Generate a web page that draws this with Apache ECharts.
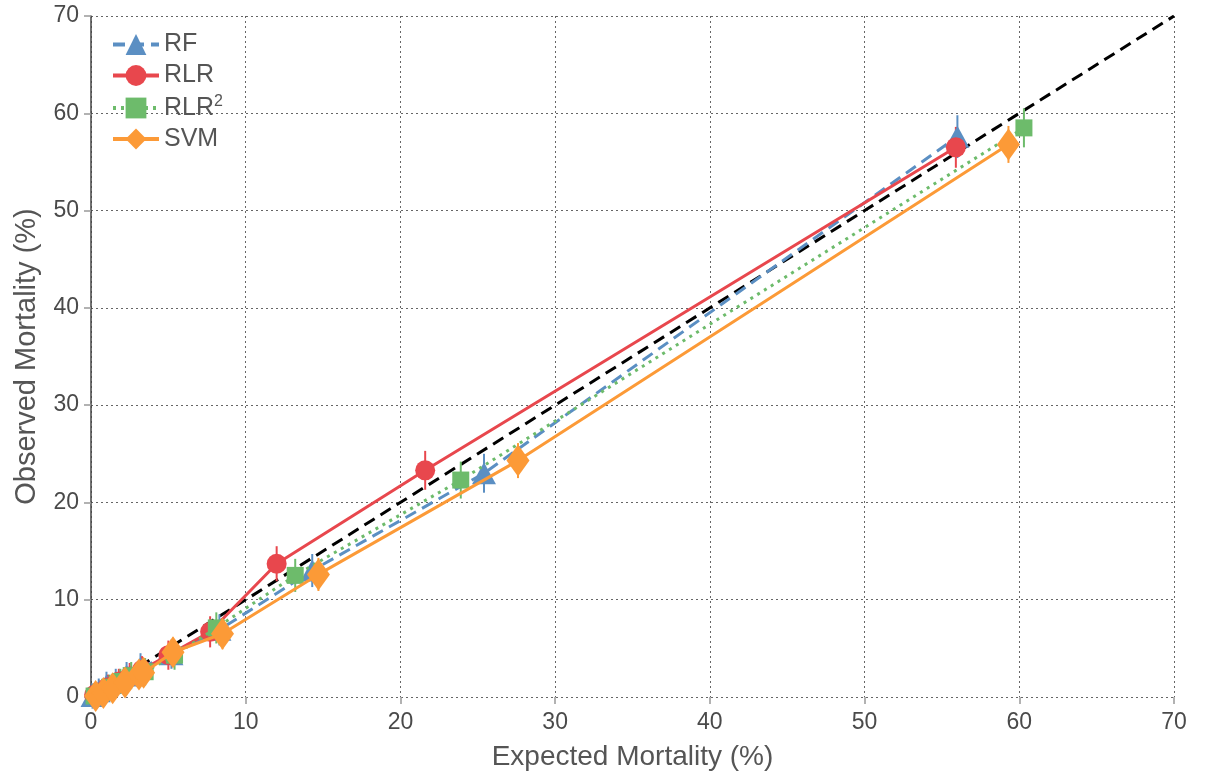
<!DOCTYPE html>
<html><head><meta charset="utf-8">
<script src="https://cdn.jsdelivr.net/npm/echarts@6/dist/echarts.min.js"></script>
<style>html,body{margin:0;padding:0;background:#fff}#c{width:1211px;height:774px}</style>
</head><body><div id="c"></div>
<script>
// [expected, observed, errorHalfWidth]
const rfData = [[0.1,0.1,1.3],[0.5,0.6,1.3],[1.0,1.2,1.4],[1.6,1.5,1.4],[2.3,2.2,1.4],[3.2,3.0,1.5],[5.2,4.4,1.5],[8.3,6.9,1.6],[14.3,13.0,1.7],[25.4,23.0,2.0],[56.0,57.6,2.2]];
const rlrData = [[0.2,0.2,1.2],[0.6,0.5,1.2],[1.1,1.0,1.3],[1.8,1.6,1.3],[2.5,2.1,1.4],[3.3,2.8,1.4],[5.0,4.3,1.5],[7.7,6.7,1.6],[12.0,13.7,1.8],[21.6,23.3,2.0],[55.9,56.5,2.1]];
const rlr2Data = [[0.2,0.1,1.2],[0.7,0.5,1.2],[1.2,1.0,1.3],[1.9,1.6,1.3],[2.6,2.2,1.4],[3.5,2.6,1.4],[5.4,4.3,1.5],[8.1,7.1,1.6],[13.2,12.5,1.7],[23.9,22.3,1.9],[60.3,58.5,2.0]];
const svmData = [[0.3,0.1,1.2],[0.8,0.4,1.2],[1.4,0.9,1.3],[2.2,1.5,1.3],[3.1,2.3,1.4],[3.4,2.5,1.4],[5.3,4.6,1.5],[8.5,6.5,1.6],[14.7,12.6,1.7],[27.6,24.3,1.8],[59.3,56.8,1.9]];
const diagonal = [[0,0],[70,70]];

const C = {rf:'#5b8fc3', rlr:'#e8474d', rlr2:'#6dbb6b', svm:'#fc9a37'};
const FONT = 'Liberation Sans';

function errSeries(data, color, z){
  return {
    type:'custom', silent:true, z:z,
    data:data.map(d=>[d[0], d[1]-d[2], d[1]+d[2]]),
    encode:{x:0,y:[1,2]},
    renderItem:function(params, api){
      const p1 = api.coord([api.value(0), api.value(1)]);
      const p2 = api.coord([api.value(0), api.value(2)]);
      return {type:'line', shape:{x1:p1[0],y1:p1[1],x2:p2[0],y2:p2[1]}, style:{stroke:color, lineWidth:2}};
    }
  };
}
function lineSeries(name, data, color, symbol, size, lineType, z){
  return {
    name:name, type:'line', z:z, data:data.map(d=>[d[0],d[1]]),
    symbol:symbol, symbolSize:size, showAllSymbol:true,
    lineStyle:{color:color, width:3, type:lineType},
    itemStyle:{color:color, opacity:1},
    emphasis:{disabled:true}, animation:false
  };
}

const chart = echarts.init(document.getElementById('c'));
chart.setOption({
  animation:false,
  grid:{left:91, right:37, top:16, bottom:77, outerBoundsMode:'none', containLabel:false},
  xAxis:{
    type:'value', min:0, max:70, interval:10,
    name:'Expected Mortality (%)', nameLocation:'middle', nameGap:46,
    nameTextStyle:{fontSize:28, color:'#555', fontFamily:FONT},
    axisLine:{show:false},
    axisTick:{show:true, length:7, lineStyle:{color:'#999', width:1.5}},
    axisLabel:{fontSize:23, color:'#4a4a4a', fontFamily:FONT, margin:14},
    splitLine:{show:true, lineStyle:{type:[2,3], color:'#666', width:1}}
  },
  yAxis:{
    type:'value', min:0, max:70, interval:10,
    name:'Observed Mortality (%)', nameLocation:'middle', nameGap:50,
    nameTextStyle:{fontSize:29, color:'#555', fontFamily:FONT},
    axisLine:{show:true, lineStyle:{color:'#444', width:1.5}},
    axisTick:{show:true, length:7, lineStyle:{color:'#999', width:1.5}},
    axisLabel:{fontSize:23, color:'#4a4a4a', fontFamily:FONT, margin:12},
    splitLine:{show:true, lineStyle:{type:[2,3], color:'#666', width:1}}
  },
  legend:{
    orient:'vertical', left:106, top:27, itemWidth:46, itemHeight:26, itemGap:6,
    lineStyle:{width:4},
    textStyle:{fontSize:25, color:'#555', fontFamily:FONT,
      rich:{b:{fontSize:25, color:'#555', fontFamily:FONT}, s:{fontSize:16, color:'#555', fontFamily:FONT, verticalAlign:'top', padding:[0,0,12,0]}}},
    formatter:function(n){ return n==='RLR2' ? '{b|RLR}{s|2}' : n; },
    data:['RF','RLR','RLR2','SVM']
  },
  series:[
    {type:'line', data:diagonal, symbol:'none', lineStyle:{color:'#000', width:3, type:[12,7]}, z:1, silent:true},
    errSeries(rfData, C.rf, 2),
    errSeries(rlrData, C.rlr, 2),
    errSeries(rlr2Data, C.rlr2, 2),
    errSeries(svmData, C.svm, 2),
    lineSeries('RF', rfData, C.rf, 'triangle', [24,22], [12,7], 3),
    lineSeries('RLR', rlrData, C.rlr, 'circle', 20, 'solid', 4),
    lineSeries('RLR2', rlr2Data, C.rlr2, 'rect', 17, [3,5], 5),
    lineSeries('SVM', svmData, C.svm, 'diamond', [23,32], 'solid', 6)
  ]
});
</script></body></html>
